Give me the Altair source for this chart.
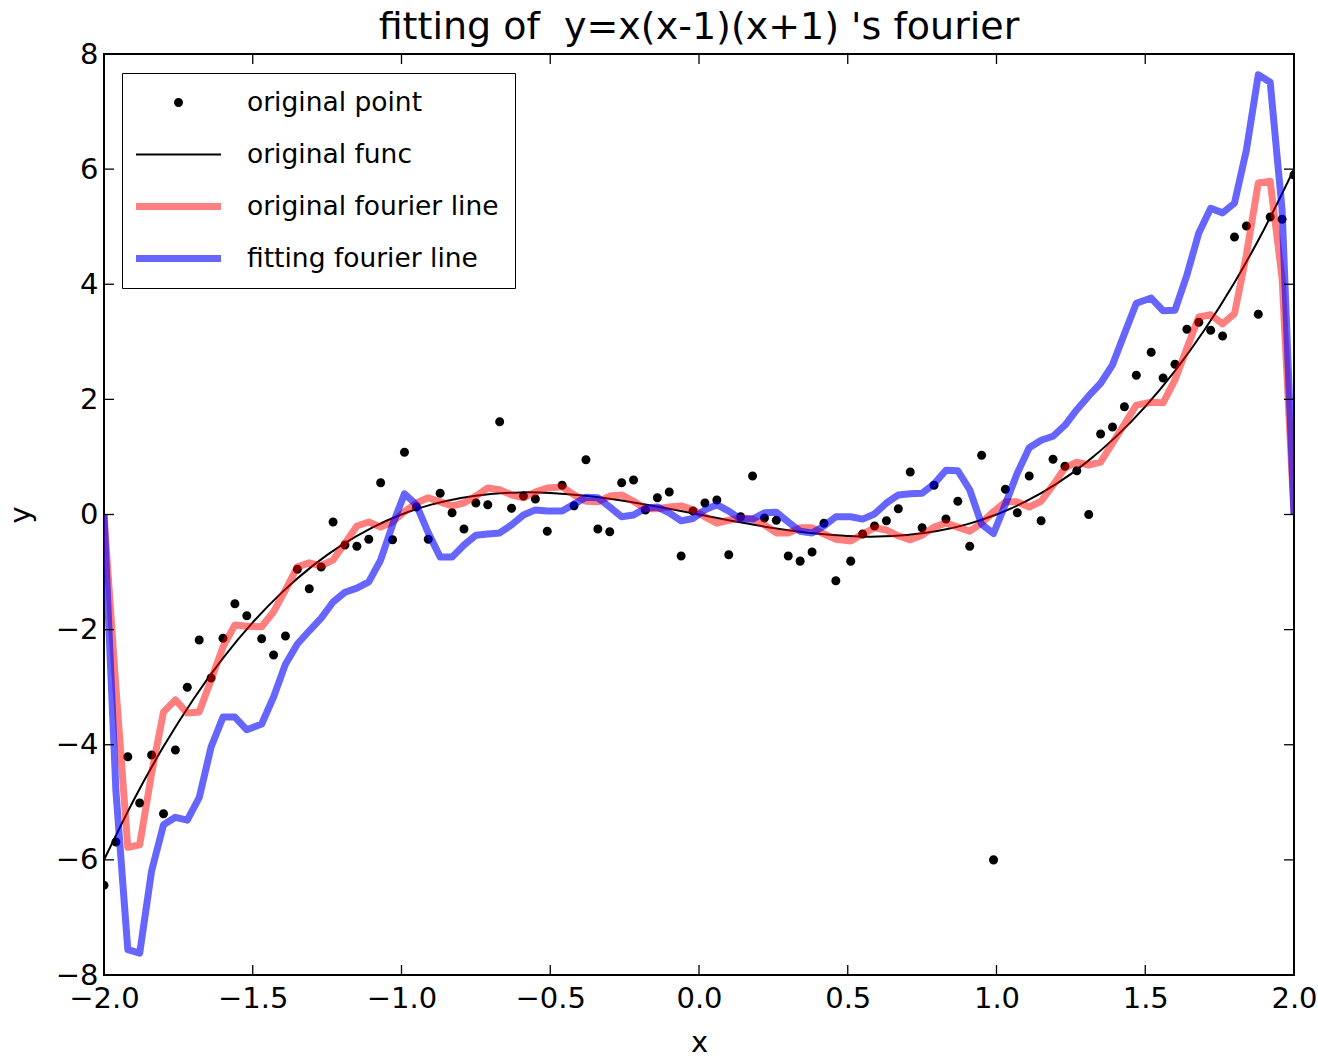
import altair as alt
import pandas as pd

# ---------------- data ----------------
x_grid = [-2.00, -1.96, -1.92, -1.88, -1.84, -1.80, -1.76, -1.72, -1.68, -1.64,
          -1.60, -1.56, -1.52, -1.47, -1.43, -1.39, -1.35, -1.31, -1.27, -1.23,
          -1.19, -1.15, -1.11, -1.07, -1.03, -0.99, -0.95, -0.91, -0.87, -0.83,
          -0.79, -0.75, -0.71, -0.67, -0.63, -0.59, -0.55, -0.51, -0.46, -0.42,
          -0.38, -0.34, -0.30, -0.26, -0.22, -0.18, -0.14, -0.10, -0.06, -0.02,
          0.02, 0.06, 0.10, 0.14, 0.18, 0.22, 0.26, 0.30, 0.34, 0.38,
          0.42, 0.46, 0.51, 0.55, 0.59, 0.63, 0.67, 0.71, 0.75, 0.79,
          0.83, 0.87, 0.91, 0.95, 0.99, 1.03, 1.07, 1.11, 1.15, 1.19,
          1.23, 1.27, 1.31, 1.35, 1.39, 1.43, 1.47, 1.52, 1.56, 1.60,
          1.64, 1.68, 1.72, 1.76, 1.80, 1.84, 1.88, 1.92, 1.96, 2.00]

point_y = [-6.44, -5.69, -4.21, -5.01, -4.18, -5.20, -4.09, -3.00, -2.18, -2.84,
           -2.15, -1.55, -1.76, -2.16, -2.44, -2.11, -0.95, -1.29, -0.91, -0.13,
           -0.53, -0.55, -0.43, 0.55, -0.44, 1.08, 0.13, -0.43, 0.37, 0.03,
           -0.25, 0.20, 0.17, 1.61, 0.11, 0.32, 0.27, -0.29, 0.51, 0.15,
           0.95, -0.25, -0.30, 0.55, 0.60, 0.08, 0.29, 0.39, -0.72, 0.06,
           0.20, 0.25, -0.70, -0.04, 0.67, -0.06, -0.10, -0.72, -0.81, -0.65,
           -0.15, -1.15, -0.81, -0.34, -0.20, -0.11, 0.10, 0.74, -0.23, 0.51,
           -0.08, 0.23, -0.55, 1.03, -6.00, 0.44, 0.03, 0.67, -0.11, 0.96,
           0.84, 0.76, 0.00, 1.40, 1.52, 1.87, 2.42, 2.82, 2.37, 2.61,
           3.22, 3.34, 3.20, 3.10, 4.82, 5.01, 3.48, 5.17, 5.13, 5.90]

fourier_y = [0.00, -3.00, -5.78, -5.74, -4.50, -3.43, -3.22, -3.45, -3.43, -2.87,
             -2.30, -1.92, -1.94, -1.95, -1.69, -1.31, -0.91, -0.84, -0.89, -0.79,
             -0.50, -0.20, -0.13, -0.22, -0.13, 0.05, 0.20, 0.29, 0.22, 0.15,
             0.20, 0.32, 0.46, 0.43, 0.34, 0.29, 0.39, 0.46, 0.48, 0.34,
             0.23, 0.22, 0.32, 0.34, 0.23, 0.10, 0.10, 0.13, 0.15, 0.08,
             -0.04, -0.15, -0.10, -0.06, -0.08, -0.18, -0.32, -0.32, -0.23, -0.23,
             -0.34, -0.43, -0.46, -0.34, -0.23, -0.27, -0.37, -0.44, -0.36, -0.22,
             -0.15, -0.22, -0.29, -0.15, 0.05, 0.22, 0.22, 0.13, 0.23, 0.51,
             0.81, 0.91, 0.86, 0.91, 1.24, 1.57, 1.90, 1.95, 1.94, 2.34,
             2.89, 3.43, 3.47, 3.31, 3.49, 4.51, 5.76, 5.79, 4.10, 0.00]

fitting_y = [0.00, -4.80, -7.56, -7.62, -6.19, -5.39, -5.26, -5.31, -4.92, -4.04,
             -3.52, -3.52, -3.74, -3.64, -3.17, -2.60, -2.25, -2.02, -1.80, -1.52,
             -1.35, -1.28, -1.17, -0.79, -0.18, 0.36, 0.17, -0.32, -0.74, -0.74,
             -0.53, -0.36, -0.34, -0.32, -0.18, -0.01, 0.08, 0.06, 0.06, 0.18,
             0.30, 0.29, 0.13, -0.04, -0.01, 0.11, 0.13, 0.03, -0.11, -0.07,
             0.08, 0.17, 0.06, -0.08, -0.08, 0.03, 0.04, -0.13, -0.29, -0.32,
             -0.20, -0.04, -0.04, -0.08, 0.01, 0.20, 0.34, 0.36, 0.37, 0.53,
             0.77, 0.76, 0.43, -0.17, -0.33, 0.18, 0.72, 1.16, 1.29, 1.36,
             1.55, 1.82, 2.06, 2.28, 2.60, 3.14, 3.67, 3.76, 3.54, 3.55,
             4.16, 4.89, 5.32, 5.24, 5.41, 6.33, 7.64, 7.51, 5.29, 0.00]

func_x = [-2.0, -1.9, -1.8, -1.7, -1.6, -1.5, -1.4, -1.3, -1.2, -1.1, -1.0,
          -0.9, -0.8, -0.7, -0.6, -0.5, -0.4, -0.3, -0.2, -0.1, 0.0,
          0.1, 0.2, 0.3, 0.4, 0.5, 0.6, 0.7, 0.8, 0.9, 1.0,
          1.1, 1.2, 1.3, 1.4, 1.5, 1.6, 1.7, 1.8, 1.9, 2.0]
func_y = [-6.0, -4.959, -4.032, -3.213, -2.496, -1.875, -1.344, -0.897, -0.528, -0.231, 0.0,
          0.171, 0.288, 0.357, 0.384, 0.375, 0.336, 0.273, 0.192, 0.099, 0.0,
          -0.099, -0.192, -0.273, -0.336, -0.375, -0.384, -0.357, -0.288, -0.171, 0.0,
          0.231, 0.528, 0.897, 1.344, 1.875, 2.496, 3.213, 4.032, 4.959, 6.0]

series_names = ["original point", "original func", "original fourier line", "fitting fourier line"]
legend_fill = ["black", "black", "#ff8080", "#6666ff"]
title_text = "fitting of \u00a0y=x(x-1)(x+1) 's fourier"

x_label_values = [-2.0, -1.5, -1.0, -0.5, 0.0, 0.5, 1.0, 1.5, 2.0]
y_label_values = [-8, -6, -4, -2, 0, 2, 4, 6, 8]
x_inner_ticks = [-1.5, -1.0, -0.5, 0.0, 0.5, 1.0, 1.5]
y_inner_ticks = [-6, -4, -2, 0, 2, 4, 6]

# ---------------- tables ----------------
pts_df = pd.DataFrame({"x": x_grid, "y": point_y, "series": "original point"})
func_df = pd.DataFrame({"x": func_x, "y": func_y})
four_df = pd.DataFrame({"x": x_grid, "y": fourier_y})
fit_df = pd.DataFrame({"x": x_grid, "y": fitting_y})
xt_df = pd.DataFrame({"x": x_inner_ticks})
yt_df = pd.DataFrame({"y": y_inner_ticks})

W, H = 1190, 921
FONT = "DejaVu Sans"

xscale = alt.Scale(domain=[-2, 2], nice=False, zero=False)
yscale = alt.Scale(domain=[-8, 8], nice=False, zero=False)
xaxis = alt.Axis(values=x_label_values, format=".1f", title="x", grid=False, ticks=False,
                 tickSize=0, domain=False, labelFontSize=29, labelPadding=9,
                 titleFontSize=29, titleFontWeight="normal", titlePadding=15,
                 labelColor="black", titleColor="black", labelFlush=False,
                 labelOverlap=False, labelFont=FONT, titleFont=FONT)
yaxis = alt.Axis(values=y_label_values, format="d", title="y", grid=False, ticks=False,
                 tickSize=0, domain=False, labelFontSize=29, labelPadding=6,
                 titleFontSize=29, titleFontWeight="normal", titlePadding=20,
                 labelColor="black", titleColor="black", labelFlush=False,
                 labelOverlap=False, labelFont=FONT, titleFont=FONT)


def X():
    return alt.X("x:Q", scale=xscale, axis=xaxis)


def Y():
    return alt.Y("y:Q", scale=yscale, axis=yaxis)


# Symbol shapes: unit box scaled by sqrt(702)/2 = 13.25 px
SYM_SIZE = 702
dot_path = "M0.34,0A0.34,0.34,0,1,1,-0.34,0A0.34,0.34,0,1,1,0.34,0Z"
thin_bar = "M-3.21,-0.076H3.21V0.076H-3.21Z"
thick_bar = "M-3.21,-0.264H3.21V0.264H-3.21Z"
legend_shapes = [dot_path, thin_bar, thick_bar, thick_bar]

legend = alt.Legend(
    title=None, orient="none", legendX=18, legendY=19, direction="vertical",
    symbolSize=SYM_SIZE, symbolStrokeWidth=0, symbolOpacity=1, symbolOffset=27,
    labelFontSize=26.5, labelFont=FONT, labelColor="black", labelOffset=55,
    labelLimit=500, rowPadding=25, padding=16,
    strokeColor="black", fillColor="white",
)

points = alt.Chart(pts_df).mark_point(filled=True, size=SYM_SIZE, opacity=1,
                                      strokeWidth=0, clip=True).encode(
    x=X(), y=Y(),
    fill=alt.Fill("series:N", scale=alt.Scale(domain=series_names, range=legend_fill),
                  legend=legend),
    shape=alt.Shape("series:N", scale=alt.Scale(domain=series_names, range=legend_shapes),
                    legend=legend),
)

func_line = alt.Chart(func_df).mark_line(color="black", strokeWidth=2,
                                         interpolate="natural", clip=True).encode(x=X(), y=Y())
four_line = alt.Chart(four_df).mark_line(color="#ff0000", opacity=0.5, strokeWidth=7,
                                         strokeJoin="round", clip=True).encode(x=X(), y=Y())
fit_line = alt.Chart(fit_df).mark_line(color="#0000ff", opacity=0.6, strokeWidth=7,
                                       strokeJoin="round", clip=True).encode(x=X(), y=Y())

tick_style = dict(color="black", strokeWidth=1.3)
xt_bottom = alt.Chart(xt_df).mark_rule(**tick_style).encode(
    x=X(), y=alt.value(H), y2=alt.value(H - 10))
xt_top = alt.Chart(xt_df).mark_rule(**tick_style).encode(
    x=X(), y=alt.value(0), y2=alt.value(10))
yt_left = alt.Chart(yt_df).mark_rule(**tick_style).encode(
    y=Y(), x=alt.value(0), x2=alt.value(10))
yt_right = alt.Chart(yt_df).mark_rule(**tick_style).encode(
    y=Y(), x=alt.value(W), x2=alt.value(W - 10))

chart = alt.layer(points, func_line, four_line, fit_line,
                  xt_bottom, xt_top, yt_left, yt_right).properties(
    width=W, height=H,
    title=alt.TitleParams(title_text, fontSize=38, fontWeight="normal", font=FONT,
                          anchor="middle", baseline="alphabetic", offset=1, dy=38,
                          color="black"),
    autosize=alt.AutoSizeParams(type="none"),
    padding={"left": 104, "top": 54, "right": 24, "bottom": 84},
).configure(font=FONT, background="white").configure_view(stroke="black", strokeWidth=2)

chart.save("out.html", embed_options={"renderer": "svg", "actions": False})
